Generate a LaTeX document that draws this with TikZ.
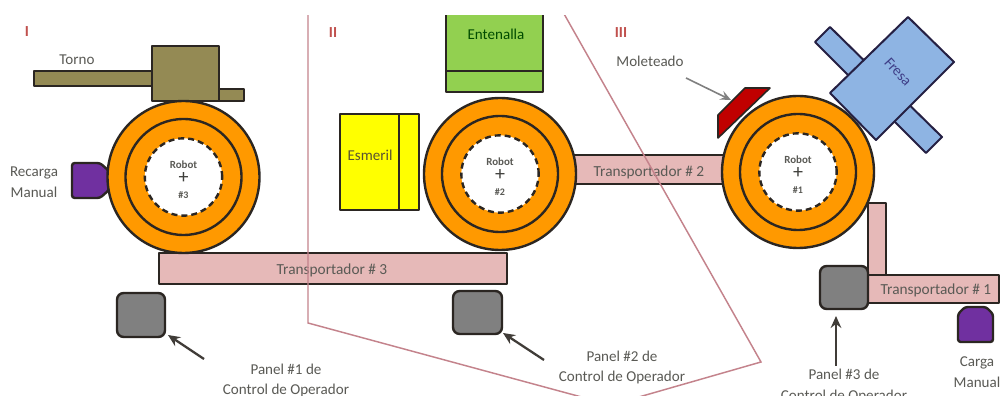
\documentclass[tikz,border=0pt]{standalone}
\usepackage{fontspec}
\setmainfont{Carlito}
\usetikzlibrary{fit,arrows.meta,calc}
\definecolor{ink}{HTML}{2B2622}
\definecolor{lbl}{HTML}{5A5A55}
\definecolor{orangeR}{HTML}{FF9900}
\definecolor{olive}{HTML}{948A54}
\definecolor{leaf}{HTML}{92D050}
\definecolor{yell}{HTML}{FFFF00}
\definecolor{pinkbar}{HTML}{E6B9B8}
\definecolor{skyb}{HTML}{8EB4E3}
\definecolor{purp}{HTML}{7030A0}
\definecolor{grayp}{HTML}{808080}
\definecolor{redm}{HTML}{C00000}
\definecolor{zone}{HTML}{C4838C}
\definecolor{zonetxt}{HTML}{C0504D}
\tikzset{
  part/.style={draw=ink,line width=1.8pt,inner sep=0pt,outer sep=0pt,line join=round},
  barbox/.style={part,fill=pinkbar},
  panelbox/.style={part,fill=grayp,rounded corners=5pt},
  lab/.style={font=\fontsize{11.3}{13}\selectfont,text=lbl,inner sep=0pt},
  barlab/.style={font=\fontsize{11.5}{13}\selectfont,text=lbl,inner sep=0pt},
  zonelab/.style={font=\fontsize{11.5}{13}\bfseries\selectfont,text=zonetxt,inner sep=0pt},
  ptr/.style={line width=1.7pt,draw=ink!90,-{Stealth[length=9pt,width=8pt,inset=3pt]}},
  zoneline/.style={draw=zone,line width=1.1pt,line join=miter},
}
\newcommand{\robotunit}[4]{%
  \node[circle,part,fill=orangeR,minimum size=114pt] (#1) at (#2,#3) {};
  \node[circle,part,minimum size=87pt] (#1m) at (#2,#3) {};
  \node[circle,draw=ink,fill=white,line width=1.8pt,dash pattern=on 4.5pt off 3pt,inner sep=0pt,minimum size=58pt] (#1i) at (#2,#3) {};
  \node[inner sep=0pt,font=\fontsize{15}{15}\selectfont,text=lbl!70!black] (#1p) at (#2,#3+1) {+};
  \node[inner sep=0pt,font=\fontsize{8.2}{9}\bfseries\selectfont,text=lbl] (#1a) at (#2,#3-12) {Robot};
  \node[inner sep=0pt,font=\fontsize{7.5}{9}\bfseries\selectfont,text=lbl] (#1b) at (#2,#3+18) {\##4};
}
\begin{document}
\begin{tikzpicture}[x=0.75pt,y=-0.75pt]
\useasboundingbox (0,0) rectangle (1000,398);
\fill[white] (0,0) rectangle (1000,398);
\begin{scope}
\clip (0,16) rectangle (1000,396);
% Conveyors
\node[barbox,fit={(159,253)(507,284)}] (t3) {};
\node[barbox,fit={(570,155)(728,184)}] (t2) {};
\node[barbox,fit={(868,203)(886,280)}] (t1v) {};
\node[barbox,fit={(864,275)(999,303)}] (t1) {};
% Loading stations
\draw[part,fill=purp,rounded corners=2pt] (72,163) -- (100,163) -- (109,171) -- (109,190) -- (100,198) -- (72,198) -- cycle;
\draw[part,fill=purp,rounded corners=2pt] (958,342) -- (958,314) -- (965,307) -- (986,307) -- (993,314) -- (993,342) -- cycle;
% Machines
\node[part,fill=olive,fit={(34,71)(156,86)}] (tornoa) {};
\node[part,fill=olive,fit={(215,89)(244,101)}] (tornob) {};
\node[part,fill=olive,fit={(152,46)(219,101)}] (torno) {};
\node[part,fill=yell,fit={(340,114)(419,210)}] (esm) {};
\draw[part] (399,114) -- (399,210);
\node[part,fill=leaf,fit={(446,5)(543,92)}] (ent) {};
\draw[part] (446,71) -- (543,71);
% Fresa
\draw[part,line width=1.5pt,draw=ink!85!blue,fill=skyb] (830,27) -- (815,42) -- (926,153) -- (942,137) -- cycle;
\draw[part,line width=1.5pt,draw=ink!85!blue,fill=skyb] (908,17) -- (954,62) -- (876,140) -- (830,93) -- cycle;
% Moleteado
\draw[part,line width=1.2pt,fill=redm] (718,138) -- (718,115) -- (745,88) -- (770,88) -- cycle;
% Robots
\robotunit{r3}{183.5}{177}{3}
\robotunit{r2}{500}{174}{2}
\robotunit{r1}{798}{172}{1}
% Panels
\node[panelbox,fit={(117,293)(165,337)}] (p1) {};
\node[panelbox,fit={(453,291)(502,334)}] (p2) {};
\node[panelbox,fit={(820,266)(868,309)}] (p3) {};
% Labels
\node[lab] at (77,60) {Torno};
\node[lab,align=center] at (34,182) {Recarga\\[2.5pt]Manual};
\node[lab,text=green!30!black] at (496,34) {Entenalla};
\node[lab,text=olive!60!black] at (370,155) {Esmeril};
\node[lab,rotate=-48,text=lbl!70!blue] at (898,72) {Fresa};
\node[lab] (molt) at (650,61) {Moleteado};
\node[barlab] at (332,270) {Transportador \# 3};
\node[barlab] at (649,172) {Transportador \# 2};
\node[barlab] at (936,290) {Transportador \# 1};
\node[lab,align=center] (l1) at (286,380.5) {Panel \#1 de\\[2.5pt]Control de Operador};
\node[lab,align=center] (l2) at (622,367.5) {Panel \#2 de\\[2.5pt]Control de Operador};
\node[lab,align=center] (l3) at (844,386) {Panel \#3 de\\[2.5pt]Control de Operador};
\node[lab,align=center] at (977,372.5) {Carga\\[2.5pt]Manual};
\node[zonelab] at (27,32) {I};
\node[zonelab] at (333,33) {II};
\node[zonelab] at (621,33) {III};
% Pointers
\coordinate (a1) at (204,359);
\coordinate (a2) at (544,360);
\coordinate (a3) at (836,366);
\coordinate (a4) at (686,78);
\draw[ptr] (a1) -- ($(p1.south east)+(3,-2)$);
\draw[ptr] (a2) -- ($(p2.south east)+(1,-1)$);
\draw[ptr] (a3) -- ($(p3.south)+(-8,7)$);
\draw[line width=1.2pt,draw=gray,-{Stealth[length=8pt,width=7pt,inset=3pt]}] (a4) -- (731,100);
% Zone boundary
\draw[zoneline] (308,5) -- (308,323) -- (611,405) -- (761,362) -- (559,5);
\end{scope}
\end{tikzpicture}
\end{document}
